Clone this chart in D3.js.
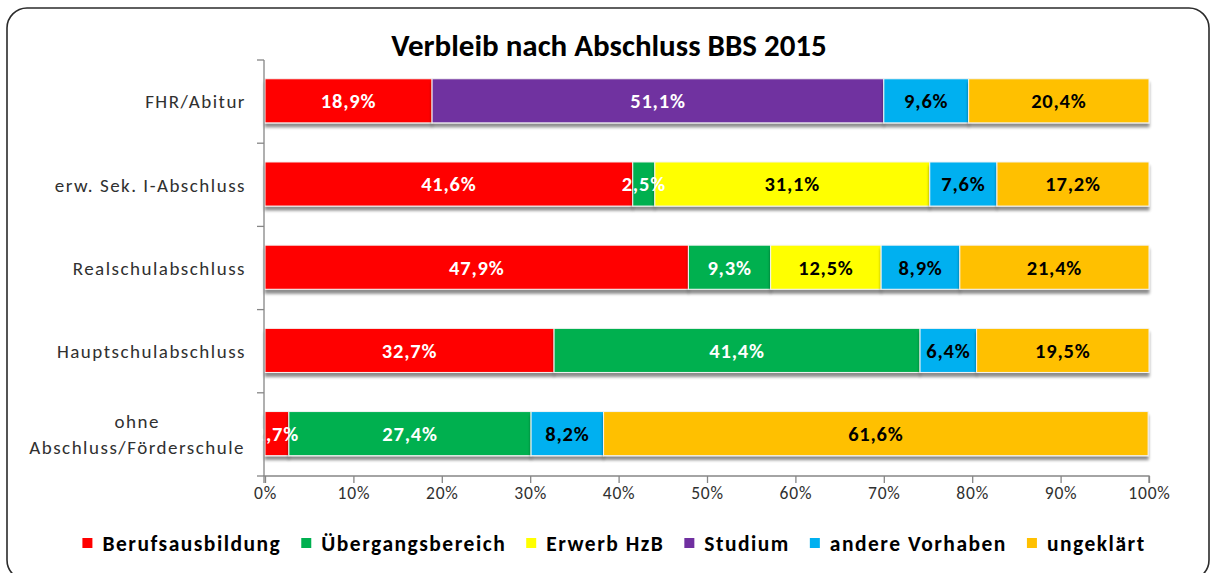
<!DOCTYPE html>
<html>
<head>
<meta charset="utf-8">
<script src="https://cdn.jsdelivr.net/npm/d3@7"></script>
<style>
  html, body { margin: 0; padding: 0; background: #fff; }
  svg { display: block; }
  text { font-family: Carlito, Calibri, Lato, sans-serif; }
</style>
</head>
<body>
<svg id="chart" width="1211" height="573"></svg>
<script>
const title = "Verbleib nach Abschluss BBS 2015";
const categories = ["FHR/Abitur", "erw. Sek. I-Abschluss", "Realschulabschluss", "Hauptschulabschluss", "ohne Abschluss/Förderschule"];
const seriesNames = ["Berufsausbildung", "Übergangsbereich", "Erwerb HzB", "Studium", "andere Vorhaben", "ungeklärt"];
const seriesColors = ["#FF0000", "#00B050", "#FFFF00", "#7030A0", "#00B0F0", "#FFC000"];
const labelColors = ["#ffffff", "#ffffff", "#000000", "#ffffff", "#000000", "#000000"];
const berufsausbildung = [18.9, 41.6, 47.9, 32.7, 2.7];
const uebergangsbereich = [0, 2.5, 9.3, 41.4, 27.4];
const erwerbHzB = [0, 31.1, 12.5, 0, 0];
const studium = [51.1, 0, 0, 0, 0];
const andereVorhaben = [9.6, 7.6, 8.9, 6.4, 8.2];
const ungeklaert = [20.4, 17.2, 21.4, 19.5, 61.6];
const tickValues = [0, 10, 20, 30, 40, 50, 60, 70, 80, 90, 100];

const seriesValues = [berufsausbildung, uebergangsbereich, erwerbHzB, studium, andereVorhaben, ungeklaert];
const rows = categories.map((c, i) => {
  const r = { cat: c };
  seriesNames.forEach((s, j) => r[s] = seriesValues[j][i]);
  return r;
});

const svg = d3.select("#chart");

// frame
svg.append("rect")
  .attr("x", 7).attr("y", 8).attr("width", 1202).attr("height", 572)
  .attr("rx", 20).attr("ry", 20)
  .attr("fill", "#fff").attr("stroke", "#2b2b2b").attr("stroke-width", 1.6);

// shadow filter
const defs = svg.append("defs");
const f = defs.append("filter").attr("id", "shadow").attr("x", "-5%").attr("y", "-20%").attr("width", "110%").attr("height", "160%");
f.append("feGaussianBlur").attr("in", "SourceAlpha").attr("stdDeviation", 1.8).attr("result", "b");
f.append("feOffset").attr("in", "b").attr("dx", 0).attr("dy", 3.5).attr("result", "o");
f.append("feComponentTransfer").attr("in", "o").attr("result", "o2")
  .append("feFuncA").attr("type", "linear").attr("slope", 0.45);
const m = f.append("feMerge");
m.append("feMergeNode").attr("in", "o2");
m.append("feMergeNode").attr("in", "SourceGraphic");

const x = d3.scaleLinear().domain([0, 100]).range([265, 1149]);
const y = d3.scaleBand().domain(categories).range([60, 476]).paddingInner(0.47).paddingOuter(0.235).align(0.48);

// title
svg.append("text")
  .attr("x", 609).attr("y", 56)
  .attr("text-anchor", "middle")
  .attr("font-size", 31).attr("font-weight", "bold").attr("fill", "#000")
  .text(title);

const stack = d3.stack().keys(seriesNames);
const stacked = stack(rows);

const gBars = svg.append("g");
stacked.forEach((layer, j) => {
  const g = gBars.append("g").attr("filter", "url(#shadow)");
  g.selectAll("rect").data(layer.filter(d => d[1] - d[0] > 0)).join("rect")
    .attr("x", d => x(d[0]))
    .attr("y", d => y(d.data.cat))
    .attr("width", d => x(d[1]) - x(d[0]))
    .attr("height", y.bandwidth())
    .attr("fill", seriesColors[j])
    .attr("stroke", "#f4f4f4").attr("stroke-width", 1);
});
const gLabels = svg.append("g");
stacked.forEach((layer, j) => {
  gLabels.selectAll(null).data(layer.filter(d => d[1] - d[0] > 0)).join("text")
    .attr("x", d => (x(d[0]) + x(d[1])) / 2)
    .attr("y", d => y(d.data.cat) + y.bandwidth() / 2)
    .attr("dy", "0.36em")
    .attr("text-anchor", "middle")
    .attr("font-size", 20.5).attr("font-weight", "bold")
    .attr("letter-spacing", 0.8)
    .attr("fill", labelColors[j])
    .text(d => d3.format(".1f")(d[1] - d[0]).replace(".", ",") + "%");
});

// y axis (Excel style: ticks at category boundaries)
const axisColor = "#868686";
const x0 = x(0) - 1;
svg.append("line").attr("x1", x0).attr("x2", x0).attr("y1", y.range()[0]).attr("y2", y.range()[1])
  .attr("stroke", axisColor).attr("stroke-width", 1.3);
d3.range(categories.length + 1).forEach(i => {
  const yy = y.range()[0] + i * y.step();
  svg.append("line").attr("x1", x0 - 7).attr("x2", x0).attr("y1", yy).attr("y2", yy)
    .attr("stroke", axisColor).attr("stroke-width", 1.3);
});
const catFont = 19, catLS = 1.5;
categories.forEach(c => {
  const parts = c === "ohne Abschluss/Förderschule" ? ["ohne", "Abschluss/Förderschule"] : [c];
  const cy = y(c) + y.bandwidth() / 2 + 1;
  const t = svg.append("text")
    .attr("font-size", catFont).attr("letter-spacing", catLS).attr("fill", "#303030");
  if (parts.length === 1) {
    t.attr("x", 246).attr("y", cy).attr("dy", "0.35em")
      .attr("text-anchor", "end").text(c);
  } else {
    t.attr("text-anchor", "middle");
    const tmp = svg.append("text").attr("font-size", catFont).attr("letter-spacing", catLS).text(parts[1]);
    const w = tmp.node().getComputedTextLength(); tmp.remove();
    const cx = 245 - w / 2;
    parts.forEach((p, k) => {
      t.append("tspan").attr("x", cx)
        .attr("y", cy + (k - 0.5) * 26)
        .attr("dy", "0.35em").text(p);
    });
  }
});

// x axis
const xAxis = d3.axisBottom(x).tickValues(tickValues).tickSize(7).tickFormat(d => d + "%");
const gx = svg.append("g").attr("transform", `translate(0,${y.range()[1]})`).call(xAxis);
gx.select(".domain").attr("stroke", axisColor).attr("stroke-width", 1.3).attr("d", `M${x0},7V0H${x(100)}V7`);
gx.selectAll(".tick line").attr("stroke", axisColor).attr("stroke-width", 1.3);
gx.selectAll(".tick text").attr("font-size", 17.5).attr("fill", "#303030")
  .attr("letter-spacing", 0.8)
  .attr("font-family", "Carlito, Calibri, Lato, sans-serif").attr("y", 11).attr("dy", "0.71em");

// legend
const legend = svg.append("g");
const items = [];
seriesNames.forEach((s, j) => {
  const g = legend.append("g");
  g.append("rect").attr("x", 0).attr("y", -5).attr("width", 10).attr("height", 10).attr("fill", seriesColors[j]);
  const t = g.append("text").attr("x", 20).attr("y", 0).attr("dy", "0.36em")
    .attr("font-size", 21.5).attr("font-weight", "bold").attr("letter-spacing", 1.5).attr("fill", "#000").text(s);
  const w = 20 + t.node().getComputedTextLength();
  items.push({ g, w });
});
const gap = 20;
const total = d3.sum(items, d => d.w) + gap * (items.length - 1);
let lx = 614 - total / 2;
items.forEach(it => { it.g.attr("transform", `translate(${lx},543)`); lx += it.w + gap; });
</script>
</body>
</html>
